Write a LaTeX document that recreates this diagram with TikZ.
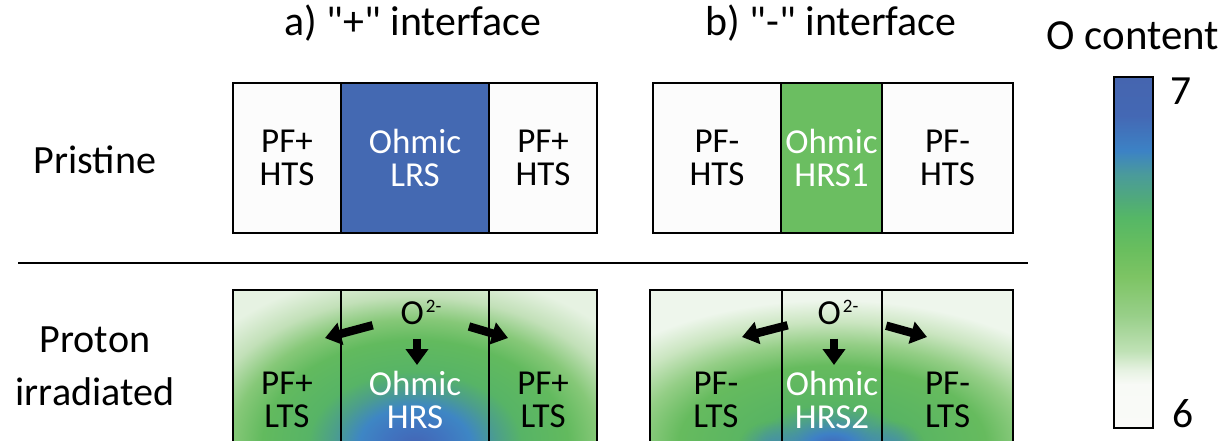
\documentclass[tikz,border=0pt]{standalone}
\usepackage{fontspec}
\setmainfont{Carlito}[Ligatures=TeXOff]
\usetikzlibrary{positioning, arrows.meta, fadings}

\definecolor{lrsblue}{RGB}{68,105,178}
\definecolor{hrsgreen}{RGB}{107,190,97}
\definecolor{cellwhite}{RGB}{252,252,252}
\definecolor{spotblue}{RGB}{62,128,198}
% oxygen content scale, 6 (bottom) to 7 (top)
\definecolor{ox00}{RGB}{250,250,248}
\definecolor{ox01}{RGB}{248,250,246}
\definecolor{ox02}{RGB}{230,242,226}
\definecolor{ox03}{RGB}{191,225,181}
\definecolor{ox04}{RGB}{152,207,137}
\definecolor{ox05}{RGB}{125,196,100}
\definecolor{ox06}{RGB}{105,190,94}
\definecolor{ox07}{RGB}{85,183,102}
\definecolor{ox08}{RGB}{80,170,122}
\definecolor{ox09}{RGB}{74,154,156}
\definecolor{ox10}{RGB}{60,130,197}
\definecolor{ox11}{RGB}{68,104,180}
\definecolor{ox12}{RGB}{69,101,175}
% irradiated "+" side
\definecolor{ip0}{HTML}{4465B5}
\definecolor{ip1}{HTML}{4075C0}
\definecolor{ip2}{HTML}{3E86C4}
\definecolor{ip3}{HTML}{4C9E8C}
\definecolor{ip4}{HTML}{57B466}
\definecolor{ip5}{HTML}{62BA5E}
\definecolor{ip6}{HTML}{86C878}
\definecolor{ip7}{HTML}{C2E0B8}
\definecolor{ip8}{HTML}{E6F2E2}
% irradiated "-" side
\definecolor{im0}{HTML}{4366B8}
\definecolor{im1}{HTML}{3E80C6}
\definecolor{im2}{HTML}{4C9E8E}
\definecolor{im3}{HTML}{58B463}
\definecolor{im4}{HTML}{66BB5E}
\definecolor{im5}{HTML}{94CE86}
\definecolor{im6}{HTML}{CAE5C0}
\definecolor{im7}{HTML}{EEF6EC}

\pgfdeclareverticalshading{oxbar}{100bp}{color(0bp)=(ox00); color(25bp)=(ox00);
  color(31.25bp)=(ox01); color(33.25bp)=(ox02); color(36bp)=(ox03); color(41bp)=(ox04);
  color(46.5bp)=(ox05); color(50.5bp)=(ox06); color(55bp)=(ox07); color(57.5bp)=(ox08);
  color(61.25bp)=(ox09); color(64.5bp)=(ox10); color(69.5bp)=(ox11); color(75bp)=(ox12);
  color(100bp)=(ox12)}
\pgfdeclareradialshading{irrplus}{\pgfpoint{0bp}{0bp}}{color(0bp)=(ip0); color(3bp)=(ip1);
  color(5.5bp)=(ip2); color(8bp)=(ip3); color(10.5bp)=(ip4); color(15bp)=(ip5);
  color(18bp)=(ip6); color(21.25bp)=(ip7); color(25bp)=(ip8); color(50bp)=(ip8)}
\pgfdeclareradialshading{irrminus}{\pgfpoint{0bp}{0bp}}{color(0bp)=(im0); color(2bp)=(im1);
  color(4.5bp)=(im2); color(7bp)=(im3); color(13.75bp)=(im4); color(17.5bp)=(im5);
  color(21.25bp)=(im6); color(25bp)=(im7); color(50bp)=(im7)}
\tikzfading[name=spotfade, inner color=transparent!35, outer color=transparent!100]

\newcommand{\oxion}{O\kern1.5pt\raisebox{8pt}{\fontsize{13.5pt}{14pt}\selectfont 2-}}

\begin{document}
\begin{tikzpicture}[x=0.025cm, y=-0.025cm,
        cell/.style={draw, line width=1.1pt, outer sep=0pt, inner sep=0pt, minimum height=3.75cm,
            align=center, fill=cellwhite, font=\fontsize{24.9pt}{23.5pt}\selectfont}, % one layer
        lowcell/.style={cell, fill=none, minimum height=5.5cm}, % irradiated layer, runs off the bottom
        heading/.style={anchor=base, font=\fontsize{29.8pt}{34pt}\selectfont},
        rowlabel/.style={align=center, font=\fontsize{28.5pt}{37.7pt}\selectfont},
        ion/.style={anchor=base, inner sep=0pt, font=\fontsize{25pt}{28pt}\selectfont},
        oflow/.style={line width=0.21cm, -{Triangle[length=0.4cm, width=0.55cm]}}
        ]
    \useasboundingbox (0,0) rectangle (1227,440);

    % titles
    \node[heading] (titlePlus) at (413,36) {a) "+" interface};
    \node[heading] (titleMinus) at (831,36) {b) "-" interface};
    \node[heading, font=\fontsize{30.5pt}{34pt}\selectfont] (titleScale) at (1133,50) {O content};

    % row labels
    \node[rowlabel] (pristine) at (95,160) {Pristine};
    \node[rowlabel] (proton) at (95,366) {Proton\\irradiated};

    % pristine, "+" interface
    \node[cell, minimum width=2.7cm] (pPlusL) at (287,158) {PF+\\HTS};
    \node[cell, fill=lrsblue, text=white, minimum width=3.7cm, right=0pt of pPlusL] (pPlusM) {Ohmic\\LRS};
    \node[cell, minimum width=2.7cm, right=0pt of pPlusM] (pPlusR) {PF+\\HTS};

    % pristine, "-" interface
    \node[cell, minimum width=3.2cm] (pMinusL) at (717,158) {PF-\\HTS};
    \node[cell, fill=hrsgreen, text=white, minimum width=2.525cm, right=0pt of pMinusL] (pMinusM) {Ohmic\\HRS1};
    \node[cell, minimum width=3.275cm, right=0pt of pMinusM] (pMinusR) {PF-\\HTS};

    \draw[line width=1.1pt] (18,263) -- (1028,263);

    % irradiated, oxygen profiles
    \begin{scope}
        \clip (233,290) rectangle (597,520);
        \fill[ip8] (233,290) rectangle (597,520);
        \shade[shading=irrplus] (415,445) ellipse [x radius=255, y radius=175];
    \end{scope}
    \begin{scope}
        \clip (650,290) rectangle (1013,520);
        \fill[im7] (650,290) rectangle (1013,520);
        \shade[shading=irrminus] (832,445) ellipse [x radius=280, y radius=145];
        \fill[spotblue, path fading=spotfade] (770,447) ellipse [x radius=32, y radius=26];
        \fill[spotblue, path fading=spotfade] (893,447) ellipse [x radius=32, y radius=26];
    \end{scope}

    % irradiated, "+" interface
    \node[lowcell, minimum width=2.7cm] (iPlusL) at (287,400) {PF+\\LTS};
    \node[lowcell, text=white, minimum width=3.7cm, right=0pt of iPlusL] (iPlusM) {Ohmic\\HRS};
    \node[lowcell, minimum width=2.7cm, right=0pt of iPlusM] (iPlusR) {PF+\\LTS};

    % irradiated, "-" interface
    \node[lowcell, minimum width=3.3cm] (iMinusL) at (716,400) {PF-\\LTS};
    \node[lowcell, text=white, minimum width=2.5cm, right=0pt of iMinusL] (iMinusM) {Ohmic\\HRS2};
    \node[lowcell, minimum width=3.275cm, right=0pt of iMinusM] (iMinusR) {PF-\\LTS};

    % oxygen ions moving out
    \node[ion] (ionPlus) at (421,324) {\oxion};
    \coordinate (ionPlusL) at (325,338);
    \coordinate (ionPlusR) at (508,338);
    \coordinate (ionPlusD) at (417,365);
    \draw[oflow, shorten <=1.25cm] (ionPlus.center) -- (ionPlusL);
    \draw[oflow, shorten <=1.25cm] (ionPlus.center) -- (ionPlusR);
    \draw[oflow, shorten <=0.35cm] (ionPlus.south -| ionPlusD) -- (ionPlusD);

    \node[ion] (ionMinus) at (838,324) {\oxion};
    \coordinate (ionMinusL) at (742,337);
    \coordinate (ionMinusR) at (927,337);
    \coordinate (ionMinusD) at (834,365);
    \draw[oflow, shorten <=1.3cm] (ionMinus.center) -- (ionMinusL);
    \draw[oflow, shorten <=1.25cm] (ionMinus.center) -- (ionMinusR);
    \draw[oflow, shorten <=0.35cm] (ionMinus.south -| ionMinusD) -- (ionMinusD);

    % colour scale
    \node[draw, line width=1.1pt, shade, shading=oxbar, inner sep=0pt, outer sep=0pt,
        minimum width=0.975cm, minimum height=8.775cm] (oxScale) at (1133.5,252.5) {};
    \node[anchor=base, font=\fontsize{29.5pt}{34pt}\selectfont] (scaleTop) at (1181,104) {7};
    \node[anchor=base, font=\fontsize{29.5pt}{34pt}\selectfont] (scaleBottom) at (1183,427) {6};
\end{tikzpicture}
\end{document}
